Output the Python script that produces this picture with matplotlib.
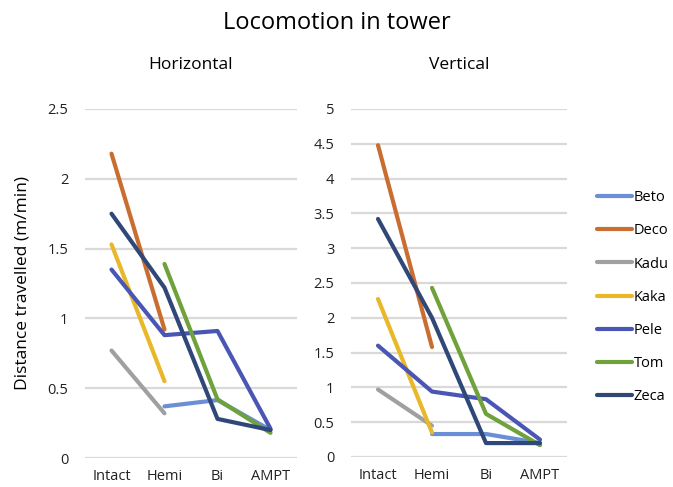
import numpy as np
import matplotlib
matplotlib.use("Agg")
import matplotlib.pyplot as plt

plt.rcParams['font.family'] = ['Open Sans', 'DejaVu Sans']

stages = ["Intact", "Hemi", "Bi", "AMPT"]
names = ["Beto", "Deco", "Kadu", "Kaka", "Pele", "Tom", "Zeca"]
colors = ["#6A8FD6", "#C96E30", "#A0A0A0", "#E9B829", "#4A56B3", "#6FA13C", "#2F4878"]
nan = np.nan

# horizontal locomotion (m/min)
horiz_beto = [nan, 0.37, 0.415, 0.2]
horiz_deco = [2.18, 0.92, nan, nan]
horiz_kadu = [0.77, 0.32, nan, nan]
horiz_kaka = [1.53, 0.55, nan, nan]
horiz_pele = [1.35, 0.88, 0.91, 0.21]
horiz_tom = [nan, 1.39, 0.42, 0.18]
horiz_zeca = [1.75, 1.22, 0.28, 0.2]

# vertical locomotion (m/min)
vert_beto = [nan, 0.33, 0.33, 0.2]
vert_deco = [4.48, 1.58, nan, nan]
vert_kadu = [0.97, 0.45, nan, nan]
vert_kaka = [2.27, 0.35, nan, nan]
vert_pele = [1.6, 0.94, 0.83, 0.25]
vert_tom = [nan, 2.43, 0.62, 0.17]
vert_zeca = [3.42, 2.0, 0.2, 0.2]

horiz = [horiz_beto, horiz_deco, horiz_kadu, horiz_kaka, horiz_pele, horiz_tom, horiz_zeca]
vert = [vert_beto, vert_deco, vert_kadu, vert_kaka, vert_pele, vert_tom, vert_zeca]

fig = plt.figure(figsize=(6.73, 4.87), dpi=100)
ax1 = fig.add_axes([85/673, 1 - 458/487, 212/673, 349/487])
ax2 = fig.add_axes([351/673, 1 - 457/487, 216/673, 348/487])

x = np.arange(len(stages))


def draw(ax, data, ymax, step, title):
    handles = []
    for vals, name, c in zip(data, names, colors):
        h, = ax.plot(x, vals, color=c, lw=3, solid_capstyle='round',
                     solid_joinstyle='round', label=name)
        handles.append(h)
    ax.set_xlim(-0.5, 3.5)
    ax.set_ylim(0, ymax)
    ticks = np.arange(0, ymax + step / 2, step)
    ax.set_yticks(ticks)
    ax.set_yticklabels([f"{t:g}" for t in ticks])
    ax.set_xticks(x)
    ax.set_xticklabels(stages)
    ax.grid(axis='y', color='#D9D9D9', lw=1.6)
    ax.set_axisbelow(True)
    for s in ax.spines.values():
        s.set_visible(False)
    ax.tick_params(length=0, labelsize=10.5, colors='#222222')
    ax.tick_params(axis='y', pad=12)
    ax.tick_params(axis='x', pad=8)
    ax.set_title(title, fontsize=12.5, pad=29)
    return handles


handles = draw(ax1, horiz, 2.5, 0.5, "Horizontal")
draw(ax2, vert, 5, 0.5, "Vertical")

ax1.set_ylabel("Distance travelled (m/min)", fontsize=12.5, labelpad=12)
fig.suptitle("Locomotion in tower", fontsize=17, y=0.978)

fig.legend(handles=handles, loc='upper left', bbox_to_anchor=(584/673, 1 - 177/487),
           frameon=False, fontsize=10.5, handlelength=2.4, handletextpad=0.1,
           labelspacing=1.25)

fig.savefig("out.png", dpi=100)
